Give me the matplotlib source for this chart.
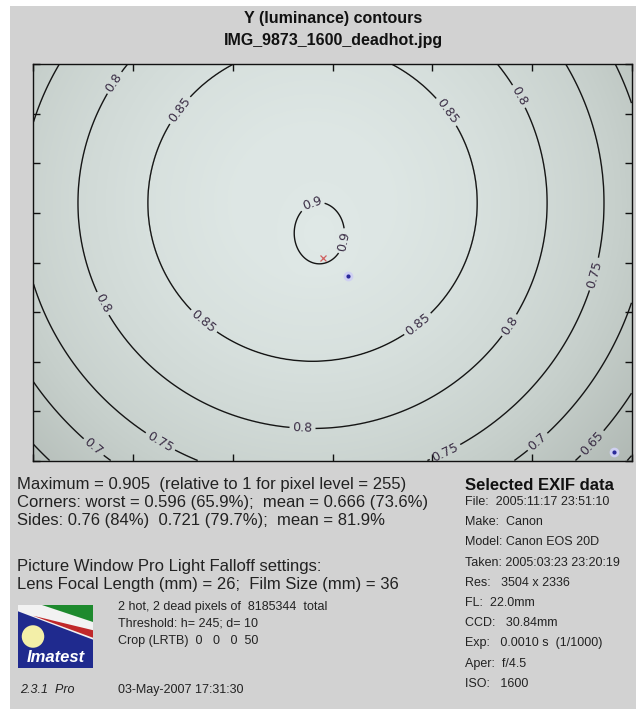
import numpy as np
import matplotlib
matplotlib.use("Agg")
import matplotlib.pyplot as plt
from matplotlib.colors import LinearSegmentedColormap
from matplotlib.patches import Rectangle, Polygon, Ellipse

W, H, DPI = 636, 709, 100

# ---- luminance falloff, read as the radius at which each level is reached ----
levels = [0.6, 0.65, 0.7, 0.75, 0.8, 0.85, 0.9]
profile_radius = [0, 75, 165, 235, 292, 336, 376, 414, 460, 540]
profile_level = [0.8945, 0.8935, 0.85, 0.80, 0.75, 0.70, 0.65, 0.60, 0.55, 0.48]
falloff_center = (280, 140)
vertical_scale = 0.967
peak_center = (287, 172)
peak_height = 0.011
peak_width = (23, 28)

# marked pixels
max_marker = (290, 195)
dead_x = [316, 582]
dead_y = [214, 391]

# contour label anchor points
label_points = [(77, 16), (67, 243), (270, 366), (475, 39), (474, 261),
                (150, 49), (407, 53), (172, 258), (390, 268),
                (280, 142), (318, 180),
                (130, 376), (410, 386), (560, 211),
                (64, 382), (504, 379),
                (557, 379)]

stats_lines = ["Maximum = 0.905  (relative to 1 for pixel level = 255)",
               "Corners: worst = 0.596 (65.9%);  mean = 0.666 (73.6%)",
               "Sides: 0.76 (84%)  0.721 (79.7%);  mean = 81.9%"]
pwp_lines = ["Picture Window Pro Light Falloff settings:",
             "Lens Focal Length (mm) = 26;  Film Size (mm) = 36"]
pixel_lines = ["2 hot, 2 dead pixels of  8185344  total",
               "Threshold: h= 245; d= 10",
               "Crop (LRTB)  0   0   0  50"]
exif_lines = ["File:  2005:11:17 23:51:10", "Make:  Canon", "Model: Canon EOS 20D",
              "Taken: 2005:03:23 23:20:19", "Res:   3504 x 2336", "FL:  22.0mm",
              "CCD:   30.84mm", "Exp:   0.0010 s  (1/1000)", "Aper:  f/4.5",
              "ISO:   1600"]

SANS = ["Liberation Sans", "DejaVu Sans"]
NARROW = ["Liberation Sans Narrow", "Liberation Sans", "DejaVu Sans"]

fig = plt.figure(figsize=(W / DPI, H / DPI), dpi=DPI, facecolor="white")


def fx(x, y):
    return x / W, 1 - y / H


# grey panel behind everything
bg = Rectangle((10 / W, 0), 1, 1 - 6 / H, transform=fig.transFigure,
               facecolor="#d2d2d2", edgecolor="none", zorder=-10)
fig.add_artist(bg)

# ---- contour plot ----
ax = fig.add_axes([33 / W, 1 - 461 / H, 599 / W, 397 / H])
ax.set_zorder(2)
xs = np.arange(600) + 0.5
ys = np.arange(400) + 0.5
X, Y = np.meshgrid(xs, ys)
r = np.hypot(X - falloff_center[0], (Y - falloff_center[1]) / vertical_scale)
lum = np.interp(r, profile_radius, profile_level)
lum = lum + peak_height * np.exp(-((X - peak_center[0]) ** 2 / (2 * peak_width[0] ** 2)
                                  + (Y - peak_center[1]) ** 2 / (2 * peak_width[1] ** 2)))

cmap = LinearSegmentedColormap.from_list("lum", ["#a9b1ac", "#c6cfcb", "#e0e9e7"])
ax.imshow(lum, cmap=cmap, vmin=0.55, vmax=0.91, extent=(0, 600, 400, 0),
          aspect="auto", interpolation="bilinear")
cs = ax.contour(X, Y, lum, levels=levels, colors="#151515", linewidths=1.0)
ax.clabel(cs, fmt=lambda v: f"{v:g}", manual=label_points, inline=True,
          inline_spacing=3, fontsize=9, colors="#3a2d45")

ax.plot(dead_x, dead_y, "o", ms=7, color="#cfd0f2", mec="none")
ax.plot(dead_x, dead_y, "o", ms=3, color="#2a2a9a", mec="none")
ax.plot(*max_marker, "x", ms=5, mew=0.9, color="#d06060")

ax.set_xlim(0, 600)
ax.set_ylim(400, 0)
ax.set_xticks(np.arange(0, 601, 100))
ax.set_yticks(np.arange(0, 401, 50))
ax.tick_params(direction="in", length=5, width=1, top=True, right=True,
               labelbottom=False, labelleft=False, color="#111111")
for s in ax.spines.values():
    s.set_linewidth(1.0)
    s.set_color("#111111")

# ---- title ----
fig.text(*fx(333, 19), "Y (luminance) contours", ha="center", va="center",
         fontsize=11.5, fontweight="bold", family=NARROW, color="#111111")
fig.text(*fx(333, 41), "IMG_9873_1600_deadhot.jpg", ha="center", va="center",
         fontsize=11.5, fontweight="bold", family=NARROW, color="#111111")

# ---- statistics text ----
for i, t in enumerate(stats_lines):
    fig.text(*fx(17, 485 + 18 * i), t, ha="left", va="center", fontsize=12,
             family=SANS, color="#222222")
for i, t in enumerate(pwp_lines):
    fig.text(*fx(17, 566 + 19 * i), t, ha="left", va="center", fontsize=12,
             family=SANS, color="#222222")
for i, t in enumerate(pixel_lines):
    fig.text(*fx(118, 607 + 17 * i), t, ha="left", va="center", fontsize=9,
             family=SANS, color="#222222")
fig.text(*fx(118, 690), "03-May-2007 17:31:30", ha="left", va="center", fontsize=9,
         family=SANS, color="#222222")
fig.text(*fx(20, 690), "2.3.1  Pro", ha="left", va="center", fontsize=9,
         family=SANS, style="italic", color="#222222")

fig.text(*fx(465, 485), "Selected EXIF data", ha="left", va="center", fontsize=12,
         fontweight="bold", family=SANS, color="#111111")
for i, t in enumerate(exif_lines):
    fig.text(*fx(465, 502 + 20.2 * i), t, ha="left", va="center", fontsize=9,
             family=SANS, color="#222222")

# ---- logo ----
lx0, ly0, lw, lh = 18, 605, 75, 63
lax = fig.add_axes([lx0 / W, 1 - (ly0 + lh) / H, lw / W, lh / H])
lax.set_xlim(0, 1)
lax.set_ylim(1, 0)
lax.axis("off")
lax.add_patch(Rectangle((0, 0), 1, 1, facecolor="#1f2a8e", edgecolor="none"))
lax.add_patch(Polygon([(0, 0), (1, 0), (1, 0.55), (0, 0.1)], closed=True,
                      facecolor="#f2f2f2", edgecolor="none"))
lax.add_patch(Polygon([(0.32, 0), (1, 0), (1, 0.27)], closed=True,
                      facecolor="#1e8a2e", edgecolor="none"))
lax.add_patch(Polygon([(0.2, 0.17), (1, 0.4), (1, 0.52)], closed=True,
                      facecolor="#c0282a", edgecolor="none"))
lax.add_patch(Ellipse((0.2, 0.5), 0.3, 0.3 * lw / lh, facecolor="#f3efa8",
                      edgecolor="none"))
lax.text(0.5, 0.84, "Imatest", ha="center", va="center", fontsize=12,
         fontweight="bold", style="italic", family=SANS, color="white")

fig.savefig("out.png", dpi=DPI, facecolor=fig.get_facecolor())
